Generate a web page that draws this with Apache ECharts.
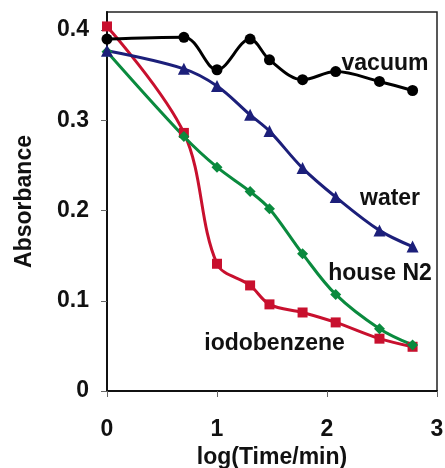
<!DOCTYPE html>
<html>
<head>
<meta charset="utf-8">
<script src="https://cdn.jsdelivr.net/npm/echarts@6/dist/echarts.min.js"></script>
<style>
  html, body { margin: 0; padding: 0; background: #fff; }
  #chart { width: 445px; height: 468px; }
</style>
</head>
<body>
<div id="chart"></div>
<script>
// Sampling times: log10 of 1, 5, 10, 20, 30, 60, 120, 300, 600 min
const logTime = [0, 0.699, 1, 1.301, 1.477, 1.778, 2.079, 2.477, 2.778];

// Absorbance for each storage condition
const vacuum      = [0.390, 0.392, 0.356, 0.390, 0.367, 0.345, 0.354, 0.343, 0.333];
const water       = [0.377, 0.357, 0.338, 0.306, 0.288, 0.247, 0.215, 0.178, 0.160];
const houseN2     = [0.376, 0.282, 0.248, 0.221, 0.202, 0.152, 0.107, 0.069, 0.051];
const iodobenzene = [0.404, 0.286, 0.141, 0.117, 0.096, 0.087, 0.076, 0.058, 0.049];

const xTicks = [0, 1, 2, 3];
const yTicks = [0, 0.1, 0.2, 0.3, 0.4];

const FONT = '"Liberation Sans", Arial, sans-serif';

function pairs(ys) {
  return logTime.map((x, i) => [x, ys[i]]);
}

function lineSeries(name, ys, color, symbol, size) {
  return {
    name: name,
    type: 'line',
    data: pairs(ys),
    smooth: 0.35,
    symbol: symbol,
    symbolSize: size,
    lineStyle: { color: color, width: 3 },
    itemStyle: { color: color },
    emphasis: { disabled: true },
    z: 2
  };
}

const chart = echarts.init(document.getElementById('chart'), null, { renderer: 'canvas' });

chart.setOption({
  animation: false,
  backgroundColor: '#ffffff',
  grid: {
    left: 107, top: 12, right: 8, bottom: 77,
    containLabel: false, outerBoundsMode: 'none',
    show: true, borderColor: '#222', borderWidth: 1.5
  },
  xAxis: {
    type: 'value',
    min: 0, max: 3, interval: 1,
    name: 'log(Time/min)',
    nameLocation: 'middle',
    nameGap: 48,
    nameTextStyle: { fontFamily: FONT, fontWeight: 'bold', fontSize: 23, color: '#111' },
    axisLine: { lineStyle: { color: '#111', width: 2 } },
    axisTick: { show: true, length: 6, lineStyle: { color: '#666', width: 1 } },
    axisLabel: {
      margin: 27, fontFamily: FONT, fontWeight: 'bold', fontSize: 23, color: '#111',
      formatter: v => (xTicks.indexOf(v) >= 0 ? String(v) : '')
    },
    splitLine: { show: false }
  },
  yAxis: {
    type: 'value',
    min: 0, max: 0.42, interval: 0.1,
    name: 'Absorbance',
    nameLocation: 'middle',
    nameGap: 71,
    nameTextStyle: { fontFamily: FONT, fontWeight: 'bold', fontSize: 23, color: '#111' },
    axisLine: { show: true, lineStyle: { color: '#111', width: 2 } },
    axisTick: { show: true, length: 6, lineStyle: { color: '#666', width: 1 } },
    axisLabel: {
      margin: 18, fontFamily: FONT, fontWeight: 'bold', fontSize: 23, color: '#111',
      showMaxLabel: false,
      formatter: v => {
        const r = Math.round(v * 10) / 10;
        return yTicks.indexOf(r) >= 0 && Math.abs(r - v) < 1e-6 ? (r === 0 ? '0' : r.toFixed(1)) : '';
      }
    },
    splitLine: { show: false }
  },
  series: [
    lineSeries('iodobenzene', iodobenzene, '#c8102e', 'rect', 10),
    lineSeries('house N2', houseN2, '#0a8a3e', 'diamond', 11),
    lineSeries('water', water, '#1c1f7a', 'triangle', 12),
    lineSeries('vacuum', vacuum, '#000000', 'circle', 11)
  ]
});

// Series names written beside their curves (anchored in data space)
const tags = [
  { text: 'vacuum',      at: [2.527, 0.363] },
  { text: 'water',       at: [2.573, 0.213] },
  { text: 'house N2',    at: [2.482, 0.130] },
  { text: 'iodobenzene', at: [1.523, 0.053] }
];
chart.setOption({
  graphic: tags.map(t => {
    const p = chart.convertToPixel({ gridIndex: 0 }, t.at);
    return {
      type: 'text', x: p[0], y: p[1], z: 10,
      style: {
        text: t.text, fill: '#111', font: 'bold 23px ' + FONT,
        textAlign: 'center', textVerticalAlign: 'middle'
      }
    };
  })
});
</script>
</body>
</html>
